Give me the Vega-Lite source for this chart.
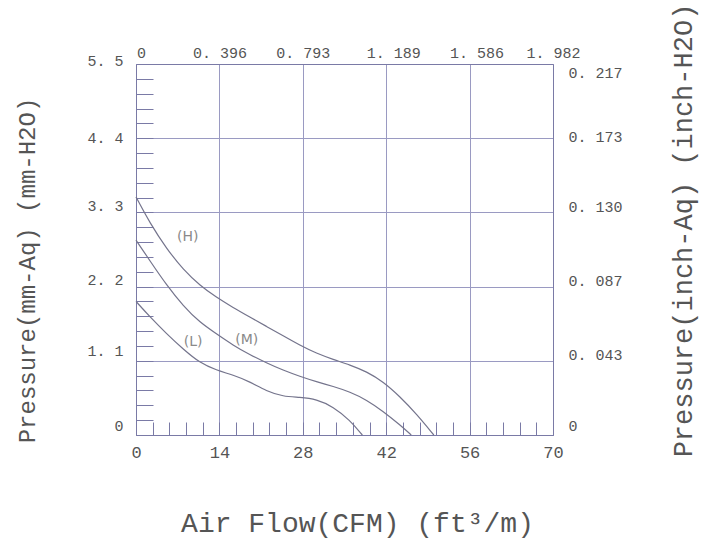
{
  "$schema": "https://vega.github.io/schema/vega-lite/v6.json",
  "width": 417,
  "height": 371,
  "autosize": {"type": "none"},
  "padding": {"left": 136, "top": 64, "right": 148, "bottom": 119},
  "background": "white",
  "config": {
    "view": {"stroke": null},
    "axis": {
      "labelFont": "Liberation Mono",
      "titleFont": "Liberation Mono",
      "labelColor": "#555555",
      "titleColor": "#555555",
      "titleFontWeight": "normal",
      "domainColor": "#7a7aa6",
      "gridColor": "#9a9ac2",
      "tickColor": "#7a7aa6",
      "domainWidth": 1,
      "gridWidth": 1,
      "tickWidth": 1
    }
  },
  "datasets": {
    "curves": [
      {"speed": "H", "cfm": 0, "p": 3.53},
      {"speed": "H", "cfm": 2.35, "p": 3.14},
      {"speed": "H", "cfm": 5.15, "p": 2.76},
      {"speed": "H", "cfm": 7.95, "p": 2.45},
      {"speed": "H", "cfm": 10.7, "p": 2.22},
      {"speed": "H", "cfm": 13.5, "p": 2.04},
      {"speed": "H", "cfm": 16.3, "p": 1.89},
      {"speed": "H", "cfm": 19.1, "p": 1.75},
      {"speed": "H", "cfm": 21.9, "p": 1.61},
      {"speed": "H", "cfm": 24.7, "p": 1.47},
      {"speed": "H", "cfm": 27.5, "p": 1.33},
      {"speed": "H", "cfm": 30.3, "p": 1.21},
      {"speed": "H", "cfm": 33.1, "p": 1.12},
      {"speed": "H", "cfm": 35.9, "p": 1.04},
      {"speed": "H", "cfm": 38.7, "p": 0.94},
      {"speed": "H", "cfm": 41.5, "p": 0.79},
      {"speed": "H", "cfm": 44.3, "p": 0.57},
      {"speed": "H", "cfm": 47.1, "p": 0.31},
      {"speed": "H", "cfm": 50.0, "p": 0},
      {"speed": "M", "cfm": 0, "p": 2.89},
      {"speed": "M", "cfm": 2.35, "p": 2.58},
      {"speed": "M", "cfm": 5.15, "p": 2.22},
      {"speed": "M", "cfm": 7.95, "p": 1.91},
      {"speed": "M", "cfm": 10.7, "p": 1.67},
      {"speed": "M", "cfm": 13.5, "p": 1.5},
      {"speed": "M", "cfm": 16.3, "p": 1.33},
      {"speed": "M", "cfm": 19.1, "p": 1.19},
      {"speed": "M", "cfm": 21.9, "p": 1.07},
      {"speed": "M", "cfm": 24.7, "p": 0.96},
      {"speed": "M", "cfm": 27.5, "p": 0.87},
      {"speed": "M", "cfm": 30.3, "p": 0.79},
      {"speed": "M", "cfm": 33.1, "p": 0.72},
      {"speed": "M", "cfm": 35.9, "p": 0.64},
      {"speed": "M", "cfm": 38.7, "p": 0.52},
      {"speed": "M", "cfm": 41.5, "p": 0.35},
      {"speed": "M", "cfm": 44.3, "p": 0.15},
      {"speed": "M", "cfm": 46.2, "p": 0},
      {"speed": "L", "cfm": 0, "p": 1.98},
      {"speed": "L", "cfm": 2.35, "p": 1.75},
      {"speed": "L", "cfm": 5.15, "p": 1.5},
      {"speed": "L", "cfm": 7.95, "p": 1.27},
      {"speed": "L", "cfm": 10.7, "p": 1.07},
      {"speed": "L", "cfm": 13.5, "p": 0.96},
      {"speed": "L", "cfm": 16.3, "p": 0.89},
      {"speed": "L", "cfm": 19.1, "p": 0.79},
      {"speed": "L", "cfm": 21.9, "p": 0.65},
      {"speed": "L", "cfm": 24.7, "p": 0.57},
      {"speed": "L", "cfm": 27.5, "p": 0.56},
      {"speed": "L", "cfm": 30.3, "p": 0.53},
      {"speed": "L", "cfm": 33.1, "p": 0.42},
      {"speed": "L", "cfm": 35.9, "p": 0.22},
      {"speed": "L", "cfm": 38.0, "p": 0}
    ],
    "tags": [
      {"tag": "(H)", "cfm": 8.7, "p": 2.94},
      {"tag": "(L)", "cfm": 9.6, "p": 1.38},
      {"tag": "(M)", "cfm": 18.6, "p": 1.41}
    ]
  },
  "resolve": {"axis": {"x": "independent", "y": "independent"}},
  "layer": [
    {
      "data": {"name": "curves"},
      "mark": {"type": "line", "opacity": 0},
      "encoding": {
        "x": {
          "field": "cfm", "type": "quantitative",
          "scale": {"domain": [0, 70], "nice": false, "zero": false},
          "axis": {
            "orient": "bottom", "title": null, "labels": false, "domain": true,
            "ticks": true, "tickSize": -13,
            "values": [0, 2.8, 5.6, 8.4, 11.2, 14, 16.8, 19.6, 22.4, 25.2, 28, 30.8, 33.6, 36.4, 39.2, 42, 44.8, 47.6, 50.4, 53.2, 56, 58.8, 61.6, 64.4, 67.2, 70],
            "grid": true,
            "gridOpacity": {"condition": {"test": "abs(datum.value/14 - round(datum.value/14)) < 0.01", "value": 1}, "value": 0}
          }
        },
        "y": {
          "field": "p", "type": "quantitative",
          "scale": {"domain": [0, 5.5], "nice": false, "zero": false},
          "axis": {
            "orient": "left", "title": null, "labels": false, "domain": true,
            "ticks": true, "tickSize": -17,
            "values": [0, 0.22, 0.44, 0.66, 0.88, 1.1, 1.32, 1.54, 1.76, 1.98, 2.2, 2.42, 2.64, 2.86, 3.08, 3.3, 3.52, 3.74, 3.96, 4.18, 4.4, 4.62, 4.84, 5.06, 5.28, 5.5],
            "grid": true,
            "gridOpacity": {"condition": {"test": "abs(datum.value/1.1 - round(datum.value/1.1)) < 0.01", "value": 1}, "value": 0}
          }
        },
        "detail": {"field": "speed"}
      }
    },
    {
      "data": {"name": "curves"},
      "mark": {"type": "line", "opacity": 0},
      "encoding": {
        "x": {
          "field": "cfm", "type": "quantitative",
          "scale": {"domain": [0, 70], "nice": false, "zero": false},
          "axis": {
            "orient": "bottom", "domain": false, "ticks": false, "grid": false,
            "values": [0, 14, 28, 42, 56, 70],
            "labelFontSize": 17, "labelPadding": 9, "labelFlush": false,
            "title": "Air Flow(CFM) (ft³/m)",
            "titleFontSize": 28, "titleX": 221, "titleY": 88,
            "titleAlign": "center", "titleBaseline": "middle", "titleAnchor": null
          }
        },
        "y": {
          "field": "p", "type": "quantitative",
          "scale": {"domain": [0, 5.5], "nice": false, "zero": false},
          "axis": {
            "orient": "left", "domain": false, "ticks": false, "grid": false,
            "values": [0, 1.1, 2.2, 3.3, 4.4, 5.5],
            "labelExpr": "datum.value == 0 ? '0' : replace(format(datum.value, '.1f'), '.', '. ')",
            "labelFontSize": 15, "labelPadding": 13, "labelFlush": false,
            "labelOffset": {"condition": [{"test": "datum.value < 1.5", "value": -10}, {"test": "datum.value > 5", "value": -4}, {"test": "datum.value > 4", "value": -1}], "value": -7},
            "title": "Pressure(mm-Aq)  (mm-H2O)",
            "titleFontSize": 24, "titleX": -109, "titleY": 206, "titleAngle": 270,
            "titleAlign": "center", "titleBaseline": "middle", "titleAnchor": null
          }
        },
        "detail": {"field": "speed"}
      }
    },
    {
      "data": {"name": "curves"},
      "mark": {"type": "line", "opacity": 0},
      "encoding": {
        "x": {
          "field": "cfm", "type": "quantitative",
          "scale": {"domain": [0, 70], "nice": false, "zero": false},
          "axis": {
            "orient": "top", "domain": true, "ticks": false, "grid": false,
            "values": [0, 14, 28, 42, 56, 70],
            "labelExpr": "datum.value == 0 ? '0' : replace(format(datum.value * 0.028317, '.3f'), '.', '. ')",
            "labelFontSize": 15, "labelPadding": 4, "labelFlush": false,
            "labelOffset": {"condition": [{"test": "datum.value == 0", "value": 5}, {"test": "datum.value > 40 && datum.value < 60", "value": 7}], "value": 0},
            "title": null
          }
        },
        "y": {
          "field": "p", "type": "quantitative",
          "scale": {"domain": [0, 5.5], "nice": false, "zero": false},
          "axis": {
            "orient": "right", "domain": true, "ticks": false, "grid": false,
            "values": [0, 1.1, 2.2, 3.3, 4.4, 5.5],
            "labelExpr": "datum.value == 0 ? '0' : replace(format(datum.value / 25.4, '.3f'), '.', '. ')",
            "labelFontSize": 15, "labelPadding": 15, "labelFlush": false,
            "labelOffset": {"condition": [{"test": "datum.value > 5", "value": 8}, {"test": "datum.value > 4", "value": -2}, {"test": "datum.value < 0.5", "value": -10}], "value": -6},
            "title": "Pressure(inch-Aq)  (inch-H2O)",
            "titleFontSize": 27, "titleX": 130, "titleY": 166, "titleAngle": 270,
            "titleAlign": "center", "titleBaseline": "middle", "titleAnchor": null
          }
        },
        "detail": {"field": "speed"}
      }
    },
    {
      "data": {"name": "curves"},
      "mark": {"type": "line", "color": "#74748c", "strokeWidth": 1.2, "interpolate": "basis"},
      "encoding": {
        "x": {"field": "cfm", "type": "quantitative", "scale": {"domain": [0, 70], "nice": false, "zero": false}, "axis": null},
        "y": {"field": "p", "type": "quantitative", "scale": {"domain": [0, 5.5], "nice": false, "zero": false}, "axis": null},
        "detail": {"field": "speed"}
      }
    },
    {
      "data": {"name": "tags"},
      "mark": {"type": "text", "font": "DejaVu Sans", "fontSize": 14, "color": "#8a8a8a", "align": "center", "baseline": "middle"},
      "encoding": {
        "x": {"field": "cfm", "type": "quantitative", "scale": {"domain": [0, 70], "nice": false, "zero": false}, "axis": null},
        "y": {"field": "p", "type": "quantitative", "scale": {"domain": [0, 5.5], "nice": false, "zero": false}, "axis": null},
        "text": {"field": "tag"}
      }
    }
  ]
}
